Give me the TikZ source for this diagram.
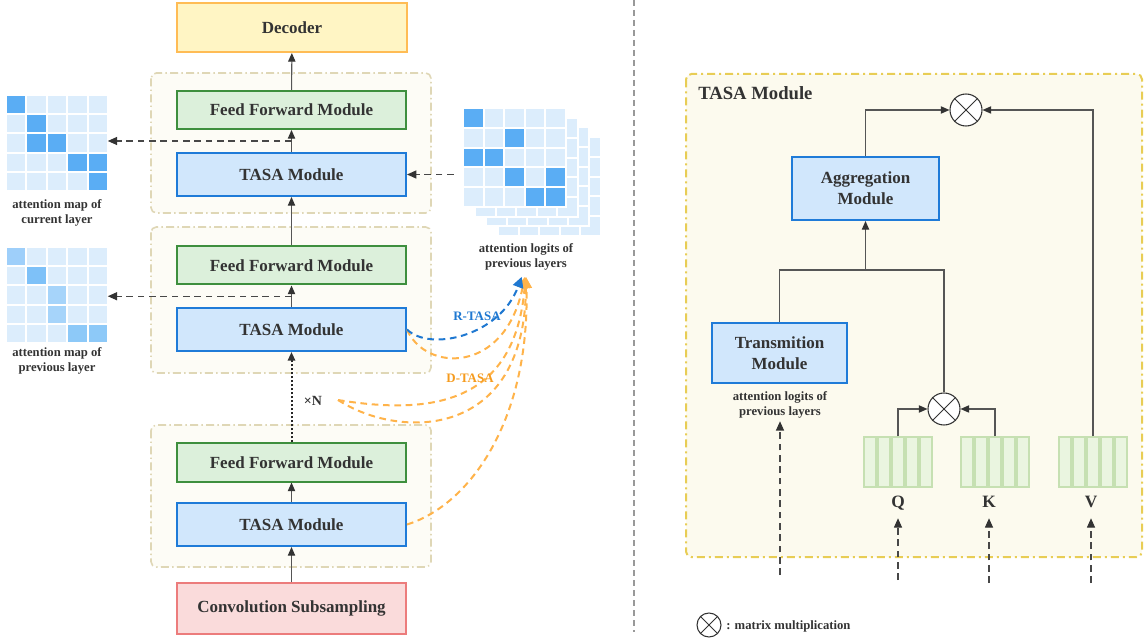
\documentclass[tikz,border=0pt]{standalone}
\usepackage{fontspec}
\setmainfont{Liberation Serif}
\usetikzlibrary{arrows.meta,calc}
\definecolor{txt}{HTML}{333333}
\definecolor{lnk}{HTML}{555555}
\definecolor{decF}{HTML}{FFF5C4}
\definecolor{decD}{HTML}{FFBC55}
\definecolor{ffF}{HTML}{DCF0DB}
\definecolor{ffD}{HTML}{3E8F3E}
\definecolor{tsF}{HTML}{D1E7FC}
\definecolor{tsD}{HTML}{1F7BD8}
\definecolor{cvF}{HTML}{FADBDB}
\definecolor{cvD}{HTML}{EC7C7C}
\definecolor{gLF}{HTML}{FDFCF6}
\definecolor{gLD}{HTML}{DFD7B6}
\definecolor{gRF}{HTML}{FCFAEE}
\definecolor{gRD}{HTML}{E8CD55}
\definecolor{cL}{HTML}{DCEDFC}
\definecolor{cD}{HTML}{5AADF4}
\definecolor{cMa}{HTML}{9ECFFA}
\definecolor{cMb}{HTML}{7EC1F8}
\definecolor{cMc}{HTML}{A6D4FA}
\definecolor{cMd}{HTML}{8DC9F8}
\definecolor{barF}{HTML}{EAF5E0}
\definecolor{barD}{HTML}{C6E0B2}
\definecolor{org}{HTML}{FFB34A}
\definecolor{orgT}{HTML}{F59B1E}
\definecolor{blu}{HTML}{1F78D1}
\definecolor{dvd}{HTML}{999999}
\newcommand\mygrid[4]{\foreach \rr in {0,...,4}{\foreach \cc in {0,...,4}{\filldraw[draw=white,line width=1.5pt,fill=cL] ({#1+\cc*#3},{#2+\rr*#4}) rectangle ++(#3,#4);}}}
\newcommand\mycell[7]{\filldraw[draw=white,line width=1.5pt,fill=#7] ({#1+#5*#3},{#2+#6*#4}) rectangle ++(#3,#4);}
\begin{document}
\begin{tikzpicture}[x=0.75pt,y=-0.75pt,
  box/.style={draw, line width=1.5pt, inner sep=0pt, text=txt, font=\fontsize{12.75}{15.5}\selectfont\bfseries, align=center},
  ffbox/.style={box, fill=ffF, draw=ffD, minimum width=171.75pt, minimum height=28.5pt},
  tsbox/.style={box, fill=tsF, draw=tsD, minimum width=171.75pt, minimum height=32.25pt},
  decbox/.style={box, fill=decF, draw=decD, minimum width=172.5pt, minimum height=36.75pt},
  cvbox/.style={box, fill=cvF, draw=cvD, minimum width=171.75pt, minimum height=38.25pt},
  grpL/.style={draw=gLD, fill=gLF, line width=1.2pt, rounded corners=4pt, dash pattern=on 6pt off 2.5pt on 1pt off 2.5pt},
  grpR/.style={draw=gRD, fill=gRF, line width=1.5pt, rounded corners=4pt, dash pattern=on 6pt off 3pt on 1.5pt off 3pt},
  arr/.style={draw=lnk, line width=0.8pt, -{Triangle[length=6.5pt,width=5.5pt,color=txt]}},
  dotarr/.style={draw=black!85, line width=1.5pt, dash pattern=on 1.5pt off 1.5pt, -{Triangle[length=6.5pt,width=5.5pt,color=txt]}},
  dasharr/.style={draw=txt!90, line width=0.9pt, dash pattern=on 5pt off 3.5pt, -{Triangle[length=7pt,width=6pt,color=txt]}},
  oarr/.style={draw=org, line width=1.5pt, dash pattern=on 5pt off 3.5pt, -{Triangle[length=8pt,width=8pt,color=org]}, shorten >=5pt},
  barr/.style={draw=blu, line width=1.5pt, dash pattern=on 5pt off 3.5pt, -{Triangle[length=8pt,width=8pt,color=blu]}, shorten >=5pt},
  small/.style={text=txt, font=\fontsize{9.5}{11.25}\selectfont\bfseries, align=center, inner sep=0pt},
  otim/.style={circle, draw=txt, fill=white, line width=0.8pt, minimum size=24pt, inner sep=0pt},
  bar/.style={draw=barD, fill=barF, line width=0.9pt, minimum width=9pt, minimum height=37.5pt, inner sep=0pt},
  lbl/.style={text=txt, font=\fontsize{13}{15}\selectfont\bfseries, inner sep=0pt, text height=9pt, text depth=0pt}
]
\useasboundingbox (0,0) rectangle (1146,641);

% ---------- divider
\draw[dvd, line width=1pt, dash pattern=on 4.5pt off 3pt] (634,0) -- (634,632);

% ---------- left groups
\draw[grpL] (151,73) rectangle (431,213);
\draw[grpL] (151,227) rectangle (431,373);
\draw[grpL] (151,425) rectangle (431,567);

% ---------- attention map of current layer
\mygrid{6}{95}{20.4}{19.2}
\foreach \cc/\rr in {0/0,1/1,1/2,2/2,3/3,4/3,4/4}{\mycell{6}{95}{20.4}{19.2}{\cc}{\rr}{cD}}
\node[minimum width=75.75pt, minimum height=71.25pt, inner sep=0pt] (map1) at (57,143) {};
\node[small] (map1l) at (57,212.5) {attention map of\\current layer};

% ---------- attention map of previous layer
\mygrid{6}{247}{20.4}{19.2}
\mycell{6}{247}{20.4}{19.2}{0}{0}{cMa}
\mycell{6}{247}{20.4}{19.2}{1}{1}{cMb}
\mycell{6}{247}{20.4}{19.2}{2}{2}{cMc}
\mycell{6}{247}{20.4}{19.2}{2}{3}{cMc}
\mycell{6}{247}{20.4}{19.2}{3}{4}{cMd}
\mycell{6}{247}{20.4}{19.2}{4}{4}{cMd}
\node[minimum width=75.75pt, minimum height=71.25pt, inner sep=0pt] (map2) at (57,295) {};
\node[small] (map2l) at (57,361) {attention map of\\previous layer};

% ---------- stacked attention logits
\mygrid{498}{137}{20.6}{19.8}
\mygrid{486}{127}{20.6}{19.8}
\mygrid{475}{118}{20.6}{19.8}
\mygrid{463}{108}{20.6}{19.8}
\foreach \cc/\rr in {0/0,2/1,0/2,1/2,2/3,4/3,3/4,4/4}{\mycell{463}{108}{20.6}{19.8}{\cc}{\rr}{cD}}
\node[minimum width=77.25pt, minimum height=74.25pt, inner sep=0pt] (stk) at (514.5,157.5) {};
\node[small] (slbl) at (526,257) {attention logits of\\previous layers};

% ---------- left boxes
\node[decbox] (dec) at (292,27.5) {Decoder};
\node[ffbox] (ff1) at (291.5,110) {Feed Forward Module};
\node[tsbox] (t1) at (291.5,174.5) {TASA Module};
\node[ffbox] (ff2) at (291.5,265.5) {Feed Forward Module};
\node[tsbox] (t2) at (291.5,329.5) {TASA Module};
\node[ffbox] (ff3) at (291.5,462.5) {Feed Forward Module};
\node[tsbox] (t3) at (291.5,524.5) {TASA Module};
\node[cvbox] (conv) at (291.5,608.5) {Convolution Subsampling};
\node[text=txt, font=\fontsize{10.5}{12}\selectfont\bfseries, inner sep=0pt] (xn) at (313,401) {×N};

% ---------- left links
\draw[arr] (conv) -- (t3);
\draw[arr] (t3) -- (ff3);
\draw[dotarr] (ff3) -- (t2);
\draw[arr] (t2) -- (ff2);
\draw[arr] (ff2) -- (t1);
\draw[arr] (t1) -- (ff1);
\draw[arr] (ff1) -- (dec);

\coordinate (l1) at ($(t1.north)!0.5!(ff1.south)$);
\coordinate (l2) at ($(t2.north)!0.5!(ff2.south)$);
\draw[dasharr] (l1) -- (l1 -| map1.east);
\draw[dasharr] (l2) -- (l2 -| map2.east);
\draw[dasharr] ($(stk.west |- t1.east)+(-9,0)$) -- (t1.east);

% ---------- R-TASA / D-TASA
\coordinate (xs) at (338,400);
\draw[oarr] (t2.east) .. controls (425,372) and (505,375) .. (slbl.south);
\draw[oarr] (xs) .. controls (430,415) and (515,405) .. (slbl.south);
\draw[oarr] (xs) .. controls (400,440) and (525,440) .. (slbl.south);
\draw[oarr] (t3.east) .. controls (470,505) and (530,420) .. (slbl.south);
\draw[barr] (t2.east) .. controls (430,352) and (500,336) .. ([xshift=-1.5pt]slbl.south);
\node[text=blu, font=\fontsize{9.7}{11}\selectfont\bfseries, inner sep=0pt] (rt) at (477,316) {R-TASA};
\node[text=orgT, font=\fontsize{9.7}{11}\selectfont\bfseries, inner sep=0pt] (dt) at (470,378) {D-TASA};

% ---------- right panel
\draw[grpR] (686,74) rectangle (1142,557);
\node[text=txt, font=\fontsize{14}{16}\selectfont\bfseries, inner sep=0pt, anchor=west] (ttl) at (698,93) {TASA Module};

\node[box, fill=tsF, draw=tsD, minimum width=110.25pt, minimum height=47.25pt] (agg) at (865.5,188.5) {Aggregation\\Module};
\node[box, fill=tsF, draw=tsD, minimum width=101.25pt, minimum height=45pt] (trans) at (779.5,353) {Transmition\\Module};
\node[small] (tl) at (780,405) {attention logits of\\previous layers};

\node[otim] (ox1) at (966,110) {};
\node[otim] (ox2) at (944,409) {};
\foreach \o in {ox1,ox2}{\draw[txt, line width=0.7pt] (\o.north west) -- (\o.south east) (\o.north east) -- (\o.south west);}

\foreach \i in {1,...,5}{
  \node[bar] (q\i) at ({870+(\i-1)*14},462) {};
  \node[bar] (k\i) at ({967+(\i-1)*14},462) {};
  \node[bar] (v\i) at ({1065+(\i-1)*14},462) {};
}
\node[lbl] (ql) at (898,502) {Q};
\node[lbl] (kl) at (989,502) {K};
\node[lbl] (vl) at (1091,502) {V};

\coordinate (j) at (865.5,270);
\draw[draw=lnk, line width=0.8pt] (ox2.north) |- (trans.north |- j) -- (trans.north);
\draw[arr] (j) -- (agg.south);
\draw[arr] (agg.north) |- (ox1.west);
\draw[arr] (v3.north) |- (ox1.east);
\draw[arr] (q3.north) |- (ox2.west);
\draw[arr] (k3.north) |- (ox2.east);

\coordinate (tin) at (780,575);
\coordinate (qin) at (898,580);
\coordinate (kin) at (989,583);
\coordinate (vin) at (1091,583);
\draw[dasharr, shorten >=2pt] (tin) -- (tl.south);
\draw[dasharr, shorten >=7.5pt] (qin) -- (ql.south);
\draw[dasharr, shorten >=7.5pt] (kin) -- (kl.south);
\draw[dasharr, shorten >=7.5pt] (vin) -- (vl.south);

% ---------- legend
\node[otim, minimum size=18pt] (leg) at (709,625) {};
\draw[txt, line width=0.7pt] (leg.north west) -- (leg.south east) (leg.north east) -- (leg.south west);
\node[small, anchor=west] (legt) at (726,626) {: matrix multiplication};
\end{tikzpicture}
\end{document}
